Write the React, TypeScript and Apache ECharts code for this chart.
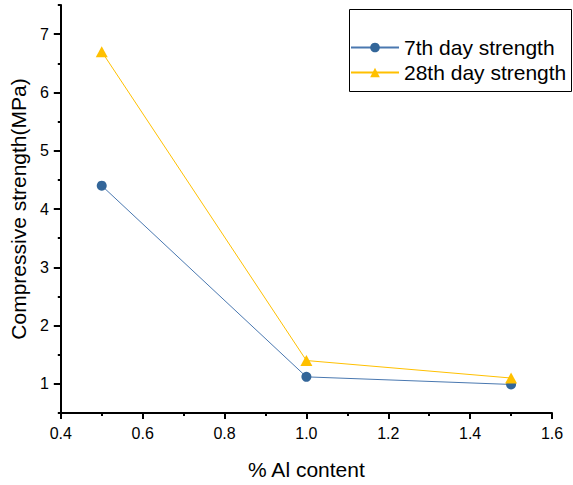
import React, { useEffect, useRef } from "react";
import * as echarts from "echarts";

const alContent = [0.5, 1.0, 1.5];
const day7Strength = [4.4, 1.12, 0.99];
const day28Strength = [6.7, 1.4, 1.1];
const seriesNames = ["7th day strength", "28th day strength"];
const yMajorTicks = [1, 2, 3, 4, 5, 6, 7];
const yMinorTicks = [0.5, 1.5, 2.5, 3.5, 4.5, 5.5, 6.5, 7.5];

const FONT = "'Liberation Sans', Arial, sans-serif";

export default function App() {
  const ref = useRef<HTMLDivElement>(null);
  useEffect(() => {
    if (!ref.current) return;
    const chart = echarts.init(ref.current, undefined, { renderer: "svg" });
    const axisLine = { show: true, lineStyle: { color: "#000", width: 2 } };
    chart.setOption({
      animation: false,
      backgroundColor: "#fff",
      textStyle: { fontFamily: FONT },
      grid: { left: 58, right: 21, top: 5, bottom: 66 },
      graphic: [
        {
          type: "rect",
          left: 347,
          top: 7,
          shape: { width: 222, height: 82 },
          style: { fill: "none", stroke: "#000", lineWidth: 1 },
          z: 100,
        },
      ],
      legend: {
        orient: "vertical",
        left: 347,
        top: 7,
        padding: [30, 4, 6, 3],
        itemGap: 4,
        itemWidth: 48,
        itemHeight: 12,
        textStyle: { fontSize: 21, color: "#000", fontFamily: FONT, lineHeight: 21 },
        data: seriesNames,
      },
      xAxis: {
        type: "value",
        min: 0.4,
        max: 1.6,
        interval: 0.2,
        name: "% Al content",
        nameLocation: "middle",
        nameGap: 46,
        nameTextStyle: { fontSize: 21, color: "#000", fontFamily: FONT },
        axisLine,
        axisTick: { show: true, length: 6, lineStyle: { color: "#000", width: 2 } },
        minorTick: { show: true, splitNumber: 2, length: 3, lineStyle: { color: "#000", width: 2 } },
        splitLine: { show: false },
        axisLabel: {
          fontSize: 16,
          color: "#000",
          fontFamily: FONT,
          margin: 12,
          formatter: (v: number) => v.toFixed(1),
        },
      },
      yAxis: [
        {
          type: "value",
          min: 0.5,
          max: 7.5,
          position: "left",
          name: "Compressive strength(MPa)",
          nameLocation: "middle",
          nameGap: 27,
          nameTextStyle: { fontSize: 21, color: "#000", fontFamily: FONT },
          axisLine,
          axisTick: { show: true, length: 7, customValues: yMajorTicks, lineStyle: { color: "#000", width: 2 } },
          axisLabel: {
            fontSize: 16,
            color: "#000",
            fontFamily: FONT,
            margin: 12,
            customValues: yMajorTicks,
            formatter: (v: number) => String(v),
          },
          splitLine: { show: false },
        },
        {
          type: "value",
          min: 0.5,
          max: 7.5,
          position: "left",
          axisLine: { show: false },
          axisTick: { show: true, length: 3, customValues: yMinorTicks, lineStyle: { color: "#000", width: 2 } },
          axisLabel: { show: false },
          splitLine: { show: false },
        },
      ],
      series: [
        {
          name: seriesNames[0],
          type: "line",
          yAxisIndex: 0,
          data: alContent.map((x, i) => [x, day7Strength[i]]),
          symbol: "circle",
          symbolSize: 10,
          itemStyle: { color: "#336699" },
          lineStyle: { color: "#4a78b0", width: 1 },
        },
        {
          name: seriesNames[1],
          type: "line",
          yAxisIndex: 0,
          data: alContent.map((x, i) => [x, day28Strength[i]]),
          symbol: "triangle",
          symbolSize: [12, 11],
          itemStyle: { color: "#FFC000" },
          lineStyle: { color: "#FFC000", width: 1 },
        },
      ],
    });
    return () => chart.dispose();
  }, []);
  return (
    <div
      ref={ref}
      style={{ position: "absolute", left: 0, top: 0, width: 573, height: 485 }}
    />
  );
}
